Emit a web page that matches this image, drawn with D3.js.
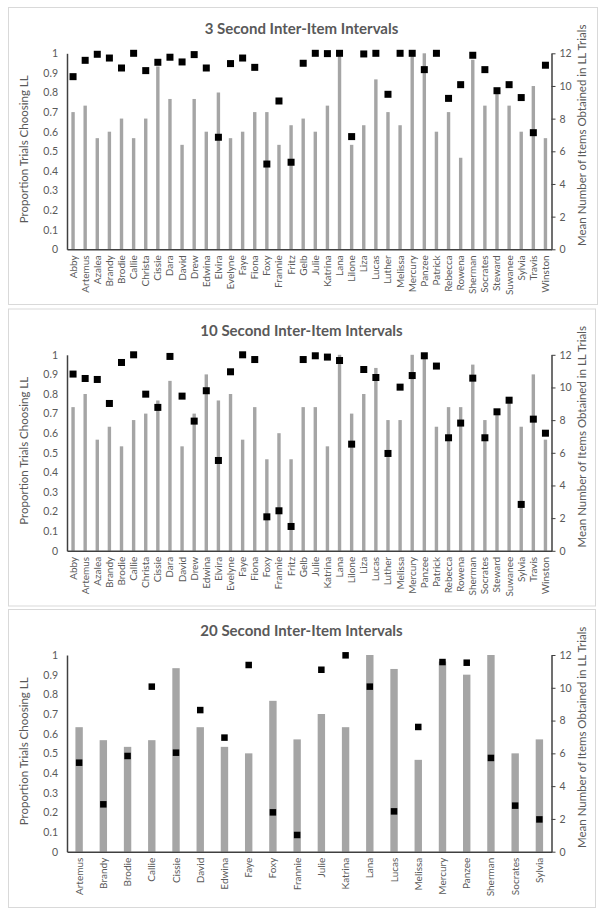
<!DOCTYPE html>
<html><head><meta charset="utf-8">
<script src="https://cdn.jsdelivr.net/npm/d3@7"></script>
<style>body{margin:0;background:#fff}svg{display:block}text{font-family:Lato,"Open Sans",sans-serif;fill:#595959}</style>
</head><body><svg id="c" width="604" height="916"></svg>
<script>
const names40 = ["Abby","Artemus","Azalea","Brandy","Brodie","Callie","Christa","Cissie","Dara","David","Drew","Edwina","Elvira","Evelyne","Faye","Fiona","Foxy","Frannie","Fritz","Gelb","Julie","Katrina","Lana","Lilone","Liza","Lucas","Luther","Melissa","Mercury","Panzee","Patrick","Rebecca","Rowena","Sherman","Socrates","Steward","Suwanee","Sylvia","Travis","Winston"];
const prop3 = [.70,.733,.567,.60,.667,.567,.667,.933,.767,.533,.767,.60,.80,.567,.60,.70,.70,.533,.633,.667,.60,.733,1.0,.533,.633,.867,.70,.633,1.0,1.0,.60,.70,.467,.967,.733,.80,.733,.60,.833,.567];
const items3 = [10.57,11.57,11.94,11.71,11.1,12.0,10.94,11.45,11.76,11.47,11.92,11.1,6.86,11.37,11.71,11.14,5.22,9.08,5.33,11.39,12.0,11.98,12.0,6.9,11.96,12.0,9.49,12.0,12.0,11.0,12.0,9.24,10.08,11.88,11.0,9.71,10.08,9.29,7.14,11.27];
const prop10 = [.733,.80,.567,.633,.533,.667,.70,.767,.867,.533,.70,.90,.767,.80,.567,.733,.467,.60,.467,.733,.733,.533,1.0,.70,.80,.933,.667,.667,1.0,1.0,.633,.733,.733,.95,.667,.70,.767,.633,.90,.567];
const items10 = [10.82,10.55,10.49,9.02,11.53,12.0,9.59,8.78,11.9,9.47,7.94,9.8,5.53,10.96,12.0,11.71,2.08,2.45,1.49,11.71,11.94,11.86,11.65,6.53,11.1,10.61,5.96,10.02,10.73,11.94,11.31,6.92,7.82,10.57,6.92,8.51,9.22,2.84,8.06,7.2];
const names20 = ["Artemus","Brandy","Brodie","Callie","Cissie","David","Edwina","Faye","Foxy","Frannie","Julie","Katrina","Lana","Lucas","Melissa","Mercury","Panzee","Sherman","Socrates","Sylvia"];
const prop20 = [.633,.567,.533,.567,.933,.633,.533,.50,.767,.571,.70,.633,1.0,.929,.467,.967,.90,1.0,.50,.571];
const items20 = [5.43,2.89,5.84,10.07,6.04,8.64,6.96,11.39,2.4,1.02,11.1,11.98,10.07,2.46,7.61,11.57,11.53,5.72,2.81,1.97];
const titles = ["3 Second Inter-Item Intervals","10 Second Inter-Item Intervals","20 Second Inter-Item Intervals"];
const leftTicks = [0,.1,.2,.3,.4,.5,.6,.7,.8,.9,1];
const rightTicks = [0,2,4,6,8,10,12];
const leftTitle = "Proportion Trials Choosing LL";
const rightTitle = "Mean Number of Items Obtained in LL Trials";

const svg = d3.select("#c");
const panels = [
  {top:7, names:names40, prop:prop3, items:items3, title:titles[0], barW:3.4, sq:7},
  {top:308.5, names:names40, prop:prop10, items:items10, title:titles[1], barW:3.4, sq:7},
  {top:609, names:names20, prop:prop20, items:items20, title:titles[2], barW:7.4, sq:6.5}
];
const L=67, R=551.5;
panels.forEach((p,pi)=>{
  const g = svg.append("g").attr("transform",`translate(0,${p.top})`);
  const boxH = pi===2 ? 298 : 297;
  g.append("rect").attr("x",8.5).attr("y",0.5).attr("width",pi===0?589:587).attr("height",boxH)
    .attr("fill","#fff").attr("stroke","#d9d9d9").attr("stroke-width",1);
  const yT = pi===2 ? 46 : 46.3, yB = pi===2 ? 242.7 : 242.3;
  const x = d3.scaleBand().domain(p.names).range([L,R]);
  const y = d3.scaleLinear().domain([0,1]).range([yB,yT]);
  const y2 = d3.scaleLinear().domain([0,12]).range([yB,yT]);
  g.append("text").attr("x",301.5).attr("y",27).attr("text-anchor","middle")
    .attr("font-size",15).attr("font-weight","bold").text(p.title);
  g.selectAll(".bar").data(p.names).join("rect")
    .attr("x",d=>x(d)+x.bandwidth()/2-p.barW/2).attr("width",p.barW)
    .attr("y",(d,i)=>y(p.prop[i])).attr("height",(d,i)=>yB-y(p.prop[i]))
    .attr("fill","#a5a5a5");
  const la = g.append("g").attr("transform",`translate(${L},0)`)
    .call(d3.axisLeft(y).tickValues(leftTicks).tickSize(0).tickPadding(9).tickFormat(d=>d3.format("~g")(d)));
  la.select(".domain").attr("stroke","#404040").attr("stroke-width",1.5);
  la.selectAll("text").attr("font-size",10.5).attr("fill","#595959").style("font-family","Lato");
  const ra = g.append("g").attr("transform",`translate(${R},0)`)
    .call(d3.axisRight(y2).tickValues(rightTicks).tickSizeInner(4).tickSizeOuter(0).tickPadding(4));
  ra.select(".domain").attr("stroke","#404040").attr("stroke-width",1.5);
  ra.selectAll("line").attr("stroke","#404040");
  ra.selectAll("text").attr("font-size",10.5).attr("fill","#595959").style("font-family","Lato");
  const ba = g.append("g").attr("transform",`translate(0,${yB})`)
    .call(d3.axisBottom(x).tickSize(0).tickPadding(0));
  ba.select(".domain").attr("stroke","#404040").attr("stroke-width",1.5);
  ba.selectAll("text").attr("font-size",10).attr("fill","#595959").style("font-family","Lato")
    .attr("text-anchor","end").attr("transform","rotate(-90)").attr("x",-6).attr("y",0).attr("dy","0.35em");
  g.selectAll(".sq").data(p.names).join("rect")
    .attr("x",d=>x(d)+x.bandwidth()/2-p.sq/2).attr("width",p.sq)
    .attr("y",(d,i)=>y2(p.items[i])-p.sq/2).attr("height",p.sq).attr("fill","#000");
  g.append("text").attr("transform",`translate(28,${(yT+yB)/2-2}) rotate(-90)`).attr("text-anchor","middle")
    .attr("font-size",11.5).text(leftTitle);
  g.append("text").attr("transform",`translate(586,${(yT+yB)/2-16}) rotate(-90)`).attr("text-anchor","middle")
    .attr("font-size",11.5).text(rightTitle);
});
</script></body></html>
